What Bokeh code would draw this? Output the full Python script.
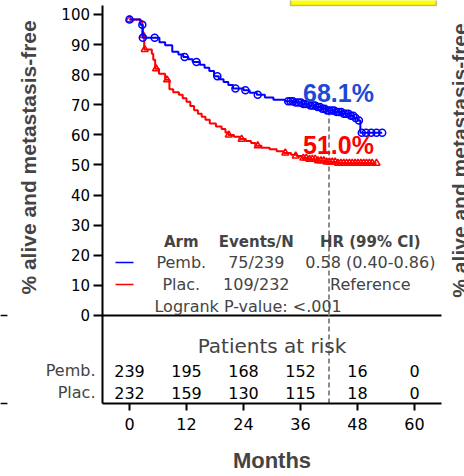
from bokeh.plotting import figure
from bokeh.models import Range1d, FixedTicker, Label, ColumnDataSource, BoxAnnotation
from bokeh.core.properties import value
from bokeh.embed import file_html
from bokeh.resources import INLINE

# ---------------- data ----------------
pemb_time = [0, 2.3, 2.8, 6.3, 7.5, 9.0, 10.3, 11.3, 12.4, 13.3, 14.8, 15.8, 16.8, 17.8,
             18.8, 19.8, 20.8, 21.8, 24.0, 25.3, 26.8, 28.5, 30.3, 32.8, 34.8, 36.3,
             37.8, 39.3, 40.5, 41.6, 43.3, 44.8, 46.3, 47.3, 48.0, 48.6, 53.2]
pemb_surv = [98.3, 96.6, 92.3, 90.8, 89.8, 87.6, 86.7, 85.9, 85.1, 84.2, 83.3, 82.3, 81.2, 79.5,
             78.5, 77.6, 76.6, 75.4, 74.8, 74.0, 73.3, 72.4, 71.7, 71.2, 70.8, 70.3,
             69.8, 69.3, 68.7, 68.1, 67.6, 67.0, 66.4, 65.6, 64.8, 60.7, 60.7]
pemb_cens_time = [0, 2.7, 2.8, 5.3, 11.6, 14.1, 18.5, 22.3, 24.4, 27.0, 33.4, 33.9, 34.4, 35.0,
                  35.6, 36.1, 36.6, 37.1, 37.6, 38.1, 38.6, 39.1, 39.6, 40.1, 40.6, 41.1,
                  41.6, 42.1, 42.6, 43.1, 43.6, 44.1, 44.6, 45.1, 45.6, 46.1, 46.6, 47.1,
                  47.6, 48.3, 48.9, 49.8, 50.9, 52.0, 53.2]
pemb_cens_surv = [98.3, 96.6, 92.3, 92.3, 85.9, 84.2, 79.5, 75.4, 74.8, 73.3, 71.2, 71.2, 71.2, 70.8,
                  70.8, 70.8, 70.3, 70.3, 70.3, 69.8, 69.8, 69.8, 69.3, 69.3, 68.7, 68.7,
                  68.1, 68.1, 68.1, 68.1, 67.6, 67.6, 67.6, 67.0, 67.0, 67.0, 66.4, 66.4,
                  65.6, 64.8, 60.7, 60.7, 60.7, 60.7, 60.7]

plac_time = [0, 2.3, 2.7, 3.1, 4.7, 5.0, 5.4, 6.2, 7.5, 8.4, 9.2, 10.4, 11.2, 12.0, 12.8,
             13.6, 14.4, 15.2, 16.0, 16.9, 18.2, 19.4, 20.2, 20.8, 22.0, 23.2, 24.5, 25.6,
             26.5, 27.8, 29.5, 31.0, 32.5, 34.0, 35.2, 36.4, 37.8, 39.5, 41.3, 43.8, 52.0]
plac_surv = [98.3, 97.8, 93.0, 88.4, 87.0, 85.0, 82.0, 80.3, 78.3, 75.2, 74.2, 73.3, 72.2, 71.0, 69.6,
             68.2, 67.0, 66.0, 65.0, 63.8, 62.8, 62.0, 60.8, 60.0, 59.4, 58.6, 58.0, 57.3,
             56.4, 55.7, 55.2, 54.6, 54.0, 53.4, 53.0, 52.3, 51.9, 51.4, 51.0, 50.6, 50.6]
plac_cens_time = [0, 2.9, 3.2, 5.6, 7.9, 20.9, 23.6, 27.0, 32.8, 35.0, 36.6, 37.2, 37.9, 38.5,
                  39.1, 39.7, 40.3, 40.9, 41.5, 42.1, 42.7, 43.3, 43.9, 44.5, 45.1, 45.7,
                  46.3, 46.9, 47.5, 48.1, 48.7, 49.3, 49.9, 50.5, 51.1, 52.0]
plac_cens_surv = [98.3, 93.0, 88.4, 82.0, 78.3, 60.0, 58.6, 56.4, 54.0, 53.0, 52.3, 52.3, 51.9, 51.9,
                  51.9, 51.4, 51.4, 51.4, 51.0, 51.0, 51.0, 51.0, 50.6, 50.6, 50.6, 50.6,
                  50.6, 50.6, 50.6, 50.6, 50.6, 50.6, 50.6, 50.6, 50.6, 50.6]

landmark_month = 42
pemb_landmark_label = "68.1%"
plac_landmark_label = "51.0%"
pemb_landmark = 68.1

risk_months = [0, 12, 24, 36, 48, 60]
pemb_at_risk = [239, 195, 168, 152, 16, 0]
plac_at_risk = [232, 159, 130, 115, 18, 0]

y_ticks = [0, 10, 20, 30, 40, 50, 60, 70, 80, 90, 100]
x_ticks = [0, 12, 24, 36, 48, 60]

arm_names = ["Pemb.", "Plac."]
events_n = ["75/239", "109/232"]
hr_ci = ["0.58 (0.40-0.86)", "Reference"]
table_headers = ["Arm", "Events/N", "HR (99% CI)"]
logrank_text = "Logrank P-value: <.001"
y_title = "% alive and metastasis-free"
x_title = "Months"
risk_title = "Patients at risk"

# ---------------- layout / style ----------------
BLUE = "#0000FF"
RED = "#FF0000"
SANS = "DejaVu Sans"
ARIAL = "Liberation Sans"

# the frame spans the whole canvas; axes are pinned inside it
X_LO, X_HI = -5.58, 65.68      # visible axis extent (months)
Y_LO, Y_HI = -29.24, 103.0     # visible axis extent (%)

p = figure(width=464, height=476,
           x_range=Range1d(-27.16, 70.53), y_range=Range1d(-53.49, 104.65),
           output_backend="svg", toolbar_location=None,
           min_border_left=0, min_border_right=0, min_border_top=0, min_border_bottom=0)
p.outline_line_color = None
p.xgrid.visible = False
p.ygrid.visible = False
p.background_fill_color = "white"
p.border_fill_color = "white"

for ax in (p.xaxis[0], p.yaxis[0]):
    ax.axis_line_width = 2
    ax.axis_line_color = "black"
    ax.major_tick_line_width = 2
    ax.major_tick_line_color = "black"
    ax.major_tick_in = 0
    ax.minor_tick_line_color = None
    ax.major_label_text_font = SANS
    ax.major_label_text_color = "black"

p.yaxis.ticker = FixedTicker(ticks=y_ticks)
p.yaxis.fixed_location = X_LO
p.yaxis.bounds = (Y_LO, Y_HI)
p.yaxis.major_tick_out = 9
p.yaxis.major_label_text_font_size = "15px"
p.yaxis.major_label_standoff = 4

p.xaxis.ticker = FixedTicker(ticks=x_ticks)
p.xaxis.fixed_location = Y_LO
p.xaxis.bounds = (X_LO, X_HI)
p.xaxis.major_tick_out = 7
p.xaxis.major_label_text_font_size = "16px"
p.xaxis.major_label_standoff = 7

# zero line separating curves from the at-risk table
p.segment(x0=[X_LO], y0=[0], x1=[X_HI], y1=[0], line_color="black", line_width=2)

# fragments of neighbouring panels visible at the edges
p.add_layout(BoxAnnotation(left=33.9, right=64.6, bottom=103.0, top=106,
                           fill_color="#FFFF00", fill_alpha=1.0,
                           line_color="#333333", line_width=1.5))
p.segment(x0=[-27.2, -27.2], y0=[0, Y_LO], x1=[-25.7, -25.7], y1=[0, Y_LO],
          line_color="black", line_width=1.5)

# landmark dashed line
p.line([landmark_month, landmark_month], [Y_LO, pemb_landmark],
       line_color="#8c8c8c", line_width=2, line_dash="5 3")

# KM curves
p.step(plac_time, plac_surv, mode="after", line_color=RED, line_width=2)
p.scatter(plac_cens_time, plac_cens_surv, marker="triangle", size=7,
          fill_color=None, line_color=RED, line_width=1.5)
p.step(pemb_time, pemb_surv, mode="after", line_color=BLUE, line_width=2)
p.scatter(pemb_cens_time, pemb_cens_surv, marker="circle", size=7,
          fill_color=None, line_color=BLUE, line_width=1.5)

# landmark labels
p.add_layout(Label(x=44, y=74, text=pemb_landmark_label, text_color="#1a4ad6",
                   text_font=ARIAL, text_font_style="bold", text_font_size="25px",
                   text_align="center", text_baseline="middle"))
p.add_layout(Label(x=44, y=56.5, text=plac_landmark_label, text_color=RED,
                   text_font=ARIAL, text_font_style="bold", text_font_size="25px",
                   text_align="center", text_baseline="middle"))

# statistics table
col_x = [10.9, 26.7, 50.7]
head_y, row_y, logrank_y = 24.3, [17.6, 10.3], 3.0
for hx, ht in zip(col_x, table_headers):
    p.add_layout(Label(x=hx, y=head_y, text=ht, text_font=SANS, text_font_style="bold",
                       text_font_size="15px", text_align="center", text_baseline="middle"))
for ry, arm, ev, hr, col in zip(row_y, arm_names, events_n, hr_ci, [BLUE, RED]):
    p.segment(x0=[-2.95], y0=[ry], x1=[0.84], y1=[ry], line_color=col, line_width=1.5)
    for cx, txt in zip(col_x, [arm, ev, hr]):
        p.add_layout(Label(x=cx, y=ry, text=txt, text_font=SANS, text_font_size="16px",
                           text_align="center", text_baseline="middle"))
p.add_layout(Label(x=5.26, y=logrank_y, text=logrank_text, text_font=SANS, text_font_size="16px",
                   text_align="left", text_baseline="middle"))

# at-risk table
p.add_layout(Label(x=30, y=-10.3, text=risk_title, text_font=SANS, text_font_size="20px",
                   text_align="center", text_baseline="middle"))
risk_rows_y = [-18.3, -25.6]
for ry, arm, counts in zip(risk_rows_y, arm_names, [pemb_at_risk, plac_at_risk]):
    src = ColumnDataSource(dict(x=risk_months, y=[ry] * len(risk_months),
                                t=[str(c) for c in counts]))
    p.text(x="x", y="y", text="t", source=src, text_font=value(SANS),
           text_font_size=value("16px"), text_align="center", text_baseline="middle",
           text_color="black")
    p.add_layout(Label(x=-7.16, y=ry, text=arm, text_font=SANS,
                       text_font_size="16px", text_align="right", text_baseline="middle"))

# axis titles
p.add_layout(Label(x=30, y=-48.2, text=x_title, text_font=ARIAL,
                   text_font_style="bold", text_font_size="22px", text_align="center",
                   text_baseline="middle"))
p.add_layout(Label(x=-21.3, y=52.5, text=y_title, angle=1.5708,
                   text_font=ARIAL, text_font_style="bold", text_font_size="21px",
                   text_align="center", text_baseline="middle"))
p.add_layout(Label(x=69.5, y=51.5, text=y_title, angle=1.5708,
                   text_font=ARIAL, text_font_style="bold", text_font_size="21px",
                   text_align="center", text_baseline="middle"))

open("out.html", "w").write(file_html(p, INLINE))
